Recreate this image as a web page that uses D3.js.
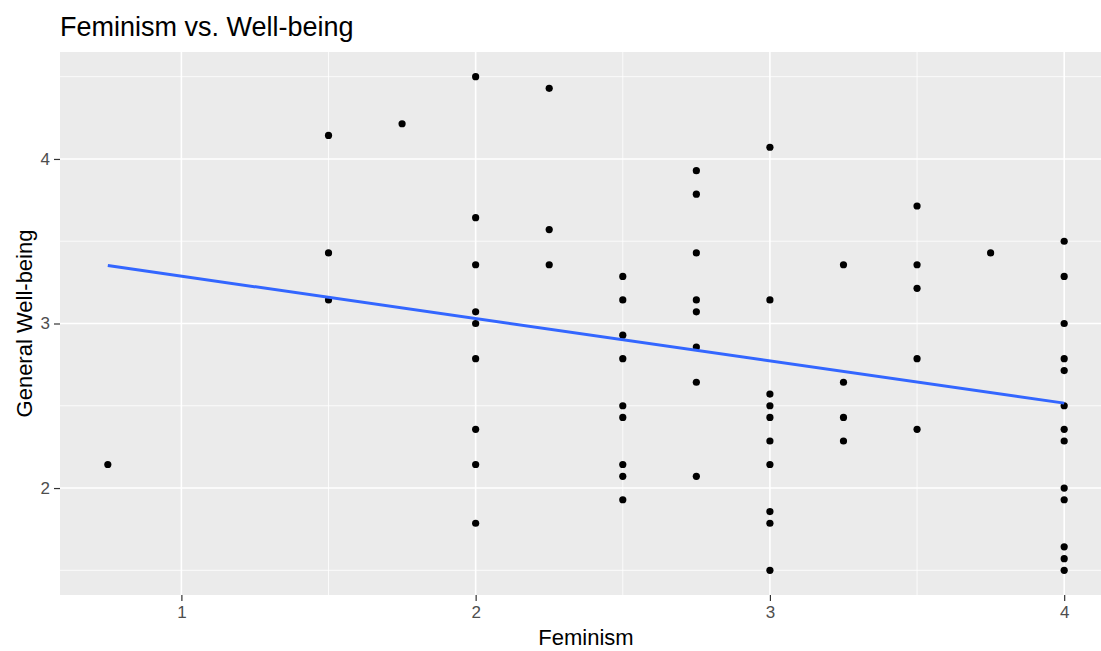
<!DOCTYPE html>
<html>
  <head>
    <meta charset="utf-8">
    <style>
      body { margin: 0; overflow: hidden; background: #fff; }
      svg { font-family: "Liberation Sans", Arial, sans-serif; }
      .grid-major { stroke: #fff; stroke-width: 1.6px; }
      .grid-minor { stroke: #fff; stroke-width: 0.8px; }
      .tick-mark { stroke: #333; stroke-width: 1.2px; }
      .axis-title { fill: #000; font-size: 22px; }
    </style>
  </head>
  <body>
    <svg width="1101" height="651"></svg>
    <script src="https://d3js.org/d3.v7.min.js"></script>
    <script>
      // feminism score (x) and general well-being (y), one entry per respondent
      var feminism = [
        0.75,
        1.5, 1.5, 1.5,
        1.75,
        2, 2, 2, 2, 2, 2, 2, 2, 2,
        2.25, 2.25, 2.25,
        2.5, 2.5, 2.5, 2.5, 2.5, 2.5, 2.5, 2.5, 2.5,
        2.75, 2.75, 2.75, 2.75, 2.75, 2.75, 2.75, 2.75,
        3, 3, 3, 3, 3, 3, 3, 3, 3, 3,
        3.25, 3.25, 3.25, 3.25,
        3.5, 3.5, 3.5, 3.5, 3.5,
        3.75,
        4, 4, 4, 4, 4, 4, 4, 4, 4, 4, 4, 4, 4
      ];
      var wellbeing = [
        2.143,
        4.143, 3.429, 3.143,
        4.214,
        4.5, 3.643, 3.357, 3.071, 3.0, 2.786, 2.357, 2.143, 1.786,
        4.429, 3.571, 3.357,
        3.286, 3.143, 2.929, 2.786, 2.5, 2.429, 2.143, 2.071, 1.929,
        3.929, 3.786, 3.429, 3.143, 3.071, 2.857, 2.643, 2.071,
        4.071, 3.143, 2.571, 2.5, 2.429, 2.286, 2.143, 1.857, 1.786, 1.5,
        3.357, 2.643, 2.429, 2.286,
        3.714, 3.357, 3.214, 2.786, 2.357,
        3.429,
        3.5, 3.286, 3.0, 2.786, 2.714, 2.5, 2.357, 2.286, 2.0, 1.929, 1.643, 1.571, 1.5
      ];

      // linear fit line, end points
      var fitX = [0.75, 4];
      var fitY = [3.352, 2.516];

      var xTicks = [1, 2, 3, 4];
      var xMinor = [1.5, 2.5, 3.5];
      var yTicks = [2, 3, 4];
      var yMinor = [1.5, 2.5, 3.5, 4.5];

      var svg = d3.select("svg");
      var pLeft = 60, pRight = 1112, pTop = 52, pBottom = 595;

      var x = d3.scaleLinear().domain([0.5875, 4.1625]).range([pLeft, pRight]);
      var y = d3.scaleLinear().domain([1.35, 4.65]).range([pBottom, pTop]);

      svg.append("rect")
        .attr("x", pLeft).attr("y", pTop)
        .attr("width", pRight - pLeft).attr("height", pBottom - pTop)
        .attr("fill", "#ebebeb");

      var grid = svg.append("g");
      grid.selectAll(".ymin").data(yMinor).enter().append("line")
        .attr("class", "grid-minor")
        .attr("x1", pLeft).attr("x2", pRight)
        .attr("y1", function(d) { return y(d); }).attr("y2", function(d) { return y(d); });
      grid.selectAll(".xmin").data(xMinor).enter().append("line")
        .attr("class", "grid-minor")
        .attr("y1", pTop).attr("y2", pBottom)
        .attr("x1", function(d) { return x(d); }).attr("x2", function(d) { return x(d); });
      grid.selectAll(".ymaj").data(yTicks).enter().append("line")
        .attr("class", "grid-major")
        .attr("x1", pLeft).attr("x2", pRight)
        .attr("y1", function(d) { return y(d); }).attr("y2", function(d) { return y(d); });
      grid.selectAll(".xmaj").data(xTicks).enter().append("line")
        .attr("class", "grid-major")
        .attr("y1", pTop).attr("y2", pBottom)
        .attr("x1", function(d) { return x(d); }).attr("x2", function(d) { return x(d); });

      // axes
      var xAxis = svg.append("g").attr("transform", "translate(0," + pBottom + ")")
        .call(d3.axisBottom(x).tickValues(xTicks).tickSize(6).tickPadding(5).tickFormat(d3.format("d")));
      var yAxis = svg.append("g").attr("transform", "translate(" + pLeft + ",0)")
        .call(d3.axisLeft(y).tickValues(yTicks).tickSize(6).tickPadding(4).tickFormat(d3.format("d")));
      [xAxis, yAxis].forEach(function(a) {
        a.select(".domain").remove();
        a.selectAll(".tick line").attr("class", "tick-mark");
        a.selectAll(".tick text").attr("fill", "#4d4d4d");
        a.attr("font-family", "Liberation Sans, Arial, sans-serif").attr("font-size", 17);
      });

      var points = feminism.map(function(f, i) { return { x: f, y: wellbeing[i] }; });
      svg.append("g").selectAll("circle").data(points).enter().append("circle")
        .attr("cx", function(d) { return x(d.x); })
        .attr("cy", function(d) { return y(d.y); })
        .attr("r", 3.6)
        .attr("fill", "#000");

      var fit = fitX.map(function(f, i) { return [f, fitY[i]]; });
      svg.append("path")
        .datum(fit)
        .attr("fill", "none")
        .attr("stroke", "#3366ff")
        .attr("stroke-width", 3)
        .attr("d", d3.line().x(function(d) { return x(d[0]); }).y(function(d) { return y(d[1]); }));

      svg.append("text")
        .attr("class", "axis-title")
        .attr("x", (pLeft + pRight) / 2).attr("y", 645)
        .attr("text-anchor", "middle")
        .text("Feminism");

      svg.append("text")
        .attr("class", "axis-title")
        .attr("transform", "translate(32," + ((pTop + pBottom) / 2) + ") rotate(-90)")
        .attr("text-anchor", "middle")
        .text("General Well-being");

      svg.append("text")
        .attr("x", 60).attr("y", 36)
        .attr("font-size", 27)
        .attr("fill", "#000")
        .text("Feminism vs. Well-being");
    </script>
  </body>
</html>
